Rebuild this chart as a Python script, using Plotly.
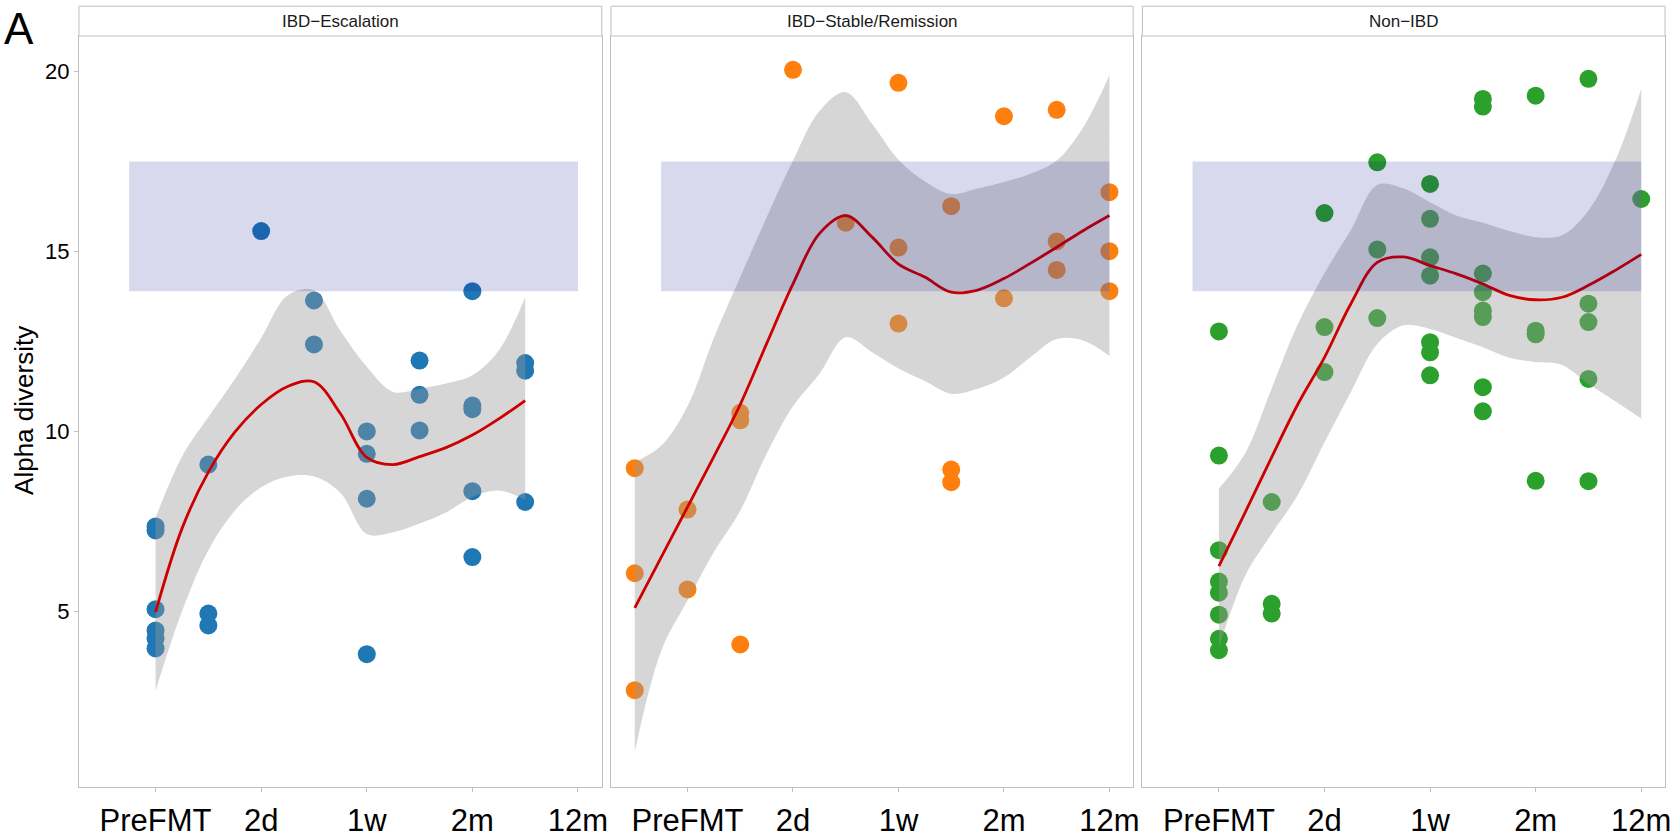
import plotly.graph_objects as go

# ---------------- data ----------------
panel_titles = ["IBD\u2212Escalation", "IBD\u2212Stable/Remission", "Non\u2212IBD"]
tick_positions = [1, 3, 5, 7, 9]
tick_labels = ["PreFMT", "2d", "1w", "2m", "12m"]
y_ticks = [5, 10, 15, 20]

# IBD-Escalation
esc_x = [1, 1, 1, 1, 1, 1, 2, 2, 2, 3, 4, 4, 5, 5, 5, 5, 6, 6, 6, 7, 7, 7, 7, 7, 8, 8, 8]
esc_y = [7.36, 7.25, 5.06, 4.47, 4.25, 3.97, 9.08, 4.94, 4.61, 15.57, 13.64, 12.42,
         10.0, 9.38, 8.13, 3.81, 11.97, 11.02, 10.03, 13.9, 10.72, 10.62, 8.34, 6.51,
         11.9, 11.69, 8.04]
esc_fit_x = [1, 1.5, 2, 2.5, 3, 3.5, 4, 4.5, 5, 5.5, 6, 6.5, 7, 7.5, 8]
esc_fit = [4.98, 7.3, 8.87, 9.98, 10.75, 11.25, 11.38, 10.5, 9.28, 9.08, 9.3, 9.55, 9.9, 10.35, 10.86]
esc_hi = [7.6, 9.3, 10.4, 11.45, 12.6, 13.78, 13.92, 12.8, 11.8, 11.1, 11.19, 11.33, 11.56, 12.25, 13.73]
esc_lo = [2.8, 5.0, 6.7, 7.8, 8.45, 8.75, 8.75, 8.3, 7.15, 7.2, 7.44, 7.75, 8.18, 8.36, 8.1]

# IBD-Stable/Remission
stb_x = [0, 0, 0, 1, 1, 2, 2, 2, 3, 4, 5, 5, 5, 6, 6, 6, 7, 7, 8, 8, 8, 9, 9, 9]
stb_y = [8.98, 6.06, 2.81, 7.83, 5.61, 10.52, 10.31, 4.08, 20.05, 15.8,
         19.69, 15.11, 13.0, 16.26, 8.94, 8.59, 18.76, 13.7, 18.94, 15.28, 14.49,
         16.65, 15.01, 13.9]
stb_fit_x = [0, 0.5, 1, 1.5, 2, 2.5, 3, 3.5, 4, 4.5, 5, 5.5, 6, 6.5, 7, 7.5, 8, 8.5, 9]
stb_fit = [5.1, 6.5, 7.9, 9.3, 10.75, 12.44, 14.1, 15.5, 16.0, 15.4, 14.65, 14.29, 13.87,
           13.93, 14.25, 14.67, 15.12, 15.58, 16.0]
stb_hi = [9.15, 9.6, 10.7, 12.6, 14.29, 15.95, 17.53, 18.9, 19.43, 18.55, 17.55, 16.95, 16.6,
          16.75, 16.93, 17.16, 17.53, 18.45, 19.9]
stb_lo = [1.1, 3.9, 5.3, 6.65, 7.8, 9.38, 10.7, 11.6, 12.62, 12.2, 11.75, 11.4, 11.05,
          11.19, 11.5, 12.06, 12.57, 12.53, 12.1]

# Non-IBD
non_x = [1, 1, 1, 1, 1, 1, 1, 1, 2, 2, 2, 3, 3, 3, 4, 4, 4,
         5, 5, 5, 5, 5, 5, 5, 6, 6, 6, 6, 6, 6, 6, 6, 7, 7, 7, 7, 8, 8, 8, 8, 8, 9]
non_y = [12.78, 9.33, 6.7, 5.83, 5.52, 4.91, 4.24, 3.92, 8.04, 5.21, 4.94,
         16.07, 12.9, 11.65, 17.48, 15.06, 13.15,
         16.88, 15.91, 14.84, 14.33, 12.48, 12.2, 11.56,
         19.24, 19.03, 14.39, 13.87, 13.36, 13.18, 11.23, 10.56,
         19.33, 12.8, 12.7, 8.63, 19.8, 13.55, 13.04, 11.46, 8.62, 16.46]
non_fit_x = [1, 1.5, 2, 2.5, 3, 3.5, 4, 4.5, 5, 5.5, 6, 6.5, 7, 7.5, 8, 8.5, 9]
non_fit = [6.26, 7.76, 9.29, 10.77, 12.06, 13.55, 14.7, 14.85, 14.61, 14.38, 14.1, 13.78,
           13.66, 13.73, 14.06, 14.47, 14.92]
non_hi = [8.41, 9.4, 11.2, 13.0, 14.4, 15.6, 16.85, 16.75, 16.37, 16.0, 15.8, 15.57, 15.4,
          15.45, 16.14, 17.5, 19.52]
non_lo = [4.0, 6.0, 7.16, 8.25, 9.7, 11.1, 12.43, 12.95, 12.85, 12.6, 12.34, 12.05, 11.93,
          11.85, 11.32, 10.85, 10.36]

healthy_band = [13.9, 17.5]       # reference range (y)
healthy_band_x = [0.5, 9.0]

point_colors = ["#1f77b4", "#ff7f0e", "#2ca02c"]

panels = [
    (esc_x, esc_y, esc_fit_x, esc_fit, esc_lo, esc_hi),
    (stb_x, stb_y, stb_fit_x, stb_fit, stb_lo, stb_hi),
    (non_x, non_y, non_fit_x, non_fit, non_lo, non_hi),
]

# ---------------- figure ----------------
W, H = 1673, 838
L, R, T, B = 78.5, 8, 35.5, 51.3
plot_w = W - L - R
plot_h = H - T - B
px_edges = [(78.5, 601.4), (610.7, 1133.0), (1142.2, 1665.0)]
domains = [[(a - L) / plot_w, (b - L) / plot_w] for a, b in px_edges]

FONT = "Liberation Sans, Arial, Helvetica, sans-serif"
GRID = "#bfbfbf"

fig = go.Figure()
for i, (xs, ys, fx, fit, lo, hi) in enumerate(panels):
    xa = "x" if i == 0 else f"x{i+1}"
    ya = "y" if i == 0 else f"y{i+1}"
    fig.add_trace(go.Scatter(x=xs, y=ys, mode="markers",
                             marker=dict(color=point_colors[i], size=18, line=dict(width=0)),
                             xaxis=xa, yaxis=ya, hoverinfo="skip"))
    fig.add_trace(go.Scatter(x=fx, y=lo, mode="lines",
                             line=dict(width=0, shape="spline", color="rgba(0,0,0,0)"),
                             xaxis=xa, yaxis=ya, hoverinfo="skip"))
    fig.add_trace(go.Scatter(x=fx, y=hi, mode="lines", fill="tonexty",
                             fillcolor="rgba(153,153,153,0.4)",
                             line=dict(width=0, shape="spline", color="rgba(0,0,0,0)"),
                             xaxis=xa, yaxis=ya, hoverinfo="skip"))
    fig.add_trace(go.Scatter(x=fx, y=fit, mode="lines",
                             line=dict(color="#CD0000", width=2.8, shape="spline"),
                             xaxis=xa, yaxis=ya, hoverinfo="skip"))
    # reference band
    fig.add_shape(type="rect", xref=xa, yref=ya,
                  x0=healthy_band_x[0], x1=healthy_band_x[1],
                  y0=healthy_band[0], y1=healthy_band[1],
                  fillcolor="rgba(0,0,139,0.15)", line=dict(width=0), layer="above")
    # strip
    fig.add_shape(type="rect", xref=f"{xa} domain", yref="paper",
                  x0=0, x1=1, y0=1.0, y1=(H - B - 5.7) / plot_h,
                  fillcolor="white", line=dict(color=GRID, width=1))
    fig.add_annotation(text=panel_titles[i], xref=f"{xa} domain", yref="paper",
                       x=0.5, y=(H - B - 21.2) / plot_h, showarrow=False,
                       xanchor="center", yanchor="middle",
                       font=dict(family=FONT, size=17, color="#1a1a1a"))

    axname = "xaxis" if i == 0 else f"xaxis{i+1}"
    yname = "yaxis" if i == 0 else f"yaxis{i+1}"
    fig.update_layout({
        axname: dict(domain=domains[i], range=[-0.45, 9.45], anchor=ya, automargin=False,
                     tickmode="array", tickvals=tick_positions, ticktext=tick_labels,
                     ticks="outside", ticklen=4, tickcolor=GRID, tickwidth=1,
                     showline=True, mirror=True, linecolor=GRID, linewidth=1,
                     showgrid=False, zeroline=False, ticklabelstandoff=2,
                     tickfont=dict(family=FONT, size=31, color="black")),
        yname: dict(domain=[0, 1], range=[0.12, 20.99], anchor=xa, automargin=False,
                    tickmode="array", tickvals=y_ticks,
                    ticks="outside" if i == 0 else "", ticklen=4, tickcolor=GRID,
                    showticklabels=(i == 0),
                    showline=True, mirror=True, linecolor=GRID, linewidth=1,
                    showgrid=False, zeroline=False,
                    tickfont=dict(family=FONT, size=22, color="black")),
    })

fig.add_annotation(text="Alpha diversity", xref="paper", yref="paper",
                   x=(24 - L) / plot_w, y=(H - B - 410) / plot_h, textangle=-90,
                   showarrow=False, xanchor="center", yanchor="middle",
                   font=dict(family=FONT, size=26, color="black"))
fig.add_annotation(text="A", xref="paper", yref="paper",
                   x=(1 - L) / plot_w, y=(H - B - 1) / plot_h,
                   showarrow=False, xanchor="left", yanchor="top",
                   font=dict(family=FONT, size=44, color="black"))

fig.update_layout(width=W, height=H, margin=dict(l=L, r=R, t=T, b=B, autoexpand=False),
                  template="none",
                  paper_bgcolor="white", plot_bgcolor="white", showlegend=False)

fig.write_html("out.html")
